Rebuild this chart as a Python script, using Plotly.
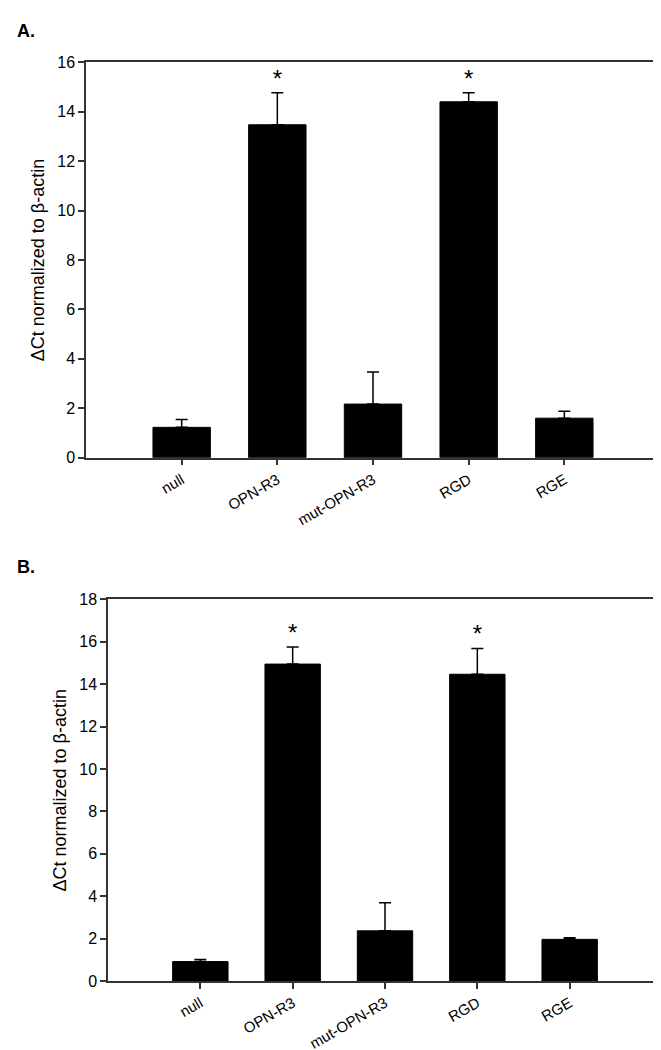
import plotly.graph_objects as go

categories = ["null", "OPN-R3", "mut-OPN-R3", "RGD", "RGE"]

a_means = [1.23, 13.47, 2.17, 14.4, 1.6]
a_errs = [0.32, 1.3, 1.3, 0.37, 0.28]
a_marks = ["", "*", "", "*", ""]
a_ticks = [0, 2, 4, 6, 8, 10, 12, 14, 16]

b_means = [0.92, 14.95, 2.37, 14.47, 1.97]
b_errs = [0.1, 0.8, 1.33, 1.22, 0.07]
b_marks = ["", "*", "", "*", ""]
b_ticks = [0, 2, 4, 6, 8, 10, 12, 14, 16, 18]

W, H = 661, 1050
FONT = "Liberation Sans, Arial, sans-serif"
AX = "#333333"

fig = go.Figure()

def add_panel(means, errs, marks, xa, ya):
    fig.add_trace(go.Bar(
        x=categories, y=means, width=0.6,
        marker=dict(color="black", line=dict(color="black", width=1)),
        error_y=dict(type="data", array=errs, arrayminus=[0]*len(errs), symmetric=False,
                     color="black", thickness=1.5, width=6),
        xaxis=xa, yaxis=ya, showlegend=False))
    fig.add_trace(go.Scatter(
        x=categories, y=[m + e for m, e in zip(means, errs)],
        mode="text", text=marks, textposition="top center",
        textfont=dict(family=FONT, size=24, color="black"),
        xaxis=xa, yaxis=ya, showlegend=False, cliponaxis=False))

add_panel(a_means, a_errs, a_marks, "x", "y")
add_panel(b_means, b_errs, b_marks, "x2", "y2")

def xax(domain, anchor):
    return dict(domain=domain, anchor=anchor, range=[-1, 5], showline=True, linecolor=AX,
                linewidth=1.5, mirror=True, ticks="outside", ticklen=6, tickcolor=AX,
                tickwidth=1.5, tickangle=-30, showgrid=False, zeroline=False,
                tickfont=dict(family=FONT, size=15, color="black"))

def yax(domain, anchor, rng, ticks):
    return dict(domain=domain, anchor=anchor, range=rng, tickvals=ticks, showline=True,
                linecolor=AX, linewidth=1.5, mirror=True, ticks="outside", ticklen=6,
                tickcolor=AX, tickwidth=1.5, showgrid=False, zeroline=False,
                tickfont=dict(family=FONT, size=16, color="black"),
                title=dict(text="ΔCt normalized to β-actin",
                           font=dict(family=FONT, size=18, color="black"), standoff=8))

fig.update_layout(
    width=W, height=H, margin=dict(l=0, r=0, t=0, b=0),
    paper_bgcolor="white", plot_bgcolor="white", bargap=0.4,
    xaxis=xax([78 / W, 652 / W], "y"),
    yaxis=yax([1 - 449 / H, 1 - 47 / H], "x", [0, 16], a_ticks),
    xaxis2=xax([100 / W, 654 / W], "y2"),
    yaxis2=yax([1 - 981 / H, 1 - 593 / H], "x2", [0, 18], b_ticks),
    annotations=[
        dict(text="<b>A.</b>", x=7 / W, y=1 - 15 / H, xref="paper", yref="paper",
             xanchor="left", yanchor="middle", showarrow=False,
             font=dict(family=FONT, size=18, color="black")),
        dict(text="<b>B.</b>", x=7 / W, y=1 - 560 / H, xref="paper", yref="paper",
             xanchor="left", yanchor="middle", showarrow=False,
             font=dict(family=FONT, size=18, color="black")),
    ],
)

fig.write_html("out.html")
